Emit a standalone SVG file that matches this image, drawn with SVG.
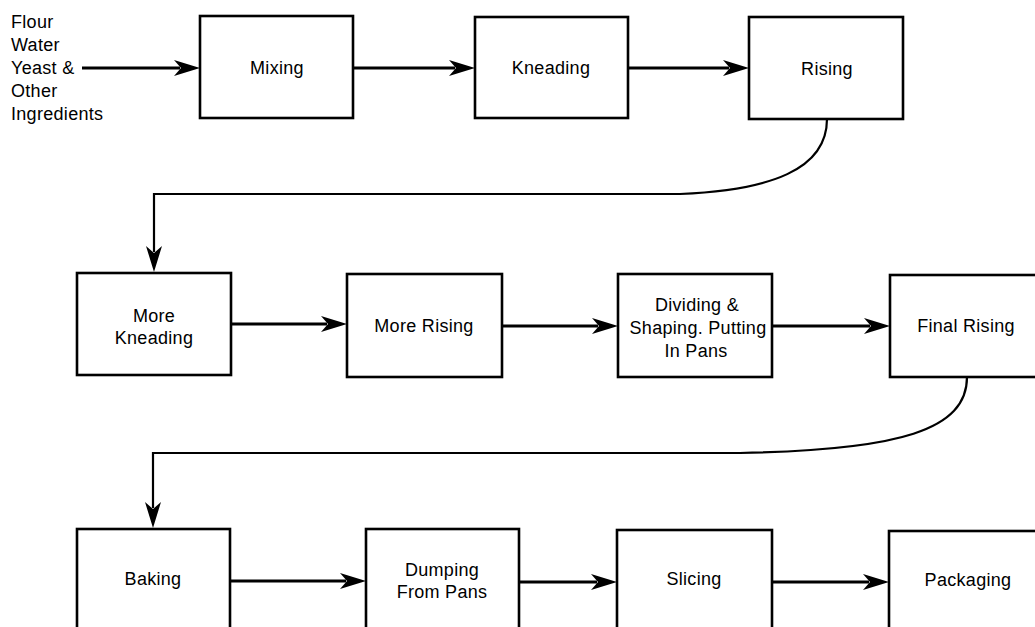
<svg xmlns="http://www.w3.org/2000/svg" width="1035" height="627" viewBox="0 0 1035 627">
  <style>
    .box { fill: #fff; stroke: #000; stroke-width: 2.6; }
    .lbl { font-family: "Liberation Sans", Arial, sans-serif; font-size: 18px; letter-spacing: 0.3px; fill: #000; text-anchor: middle; }
    .src { font-family: "Liberation Sans", Arial, sans-serif; font-size: 18px; letter-spacing: 0.3px; fill: #000; }
    .flow { fill: none; stroke: #000; stroke-width: 3; marker-end: url(#arrow); }
    .loop { fill: none; stroke: #000; stroke-width: 2.2; marker-end: url(#arrow); }
  </style>
  <defs>
    <!-- barbed arrowhead, tip sits 20px past the end of the line -->
    <marker id="arrow" viewBox="0 0 26 16" refX="6" refY="8" markerWidth="26" markerHeight="16" markerUnits="userSpaceOnUse" orient="auto">
      <path d="M0,0 L26,8 L0,16 L7,8 Z" fill="#000"/>
    </marker>
  </defs>
  <rect width="1035" height="627" fill="#fff"/>

  <!-- raw ingredients -->
  <g id="ingredients">
    <text class="src" x="11" y="28">Flour</text>
    <text class="src" x="11" y="51">Water</text>
    <text class="src" x="11" y="74">Yeast &amp;</text>
    <text class="src" x="11" y="97">Other</text>
    <text class="src" x="11" y="120">Ingredients</text>
  </g>

  <!-- connectors -->
  <g id="connectors">
    <path class="flow" d="M82,68 L180,68"/>
    <path class="flow" d="M353,68 L455,68"/>
    <path class="flow" d="M628,68 L729,68"/>
    <path class="loop" d="M827,119 C827,170 770,190 680,194 L154,194 L154,252"/>
    <path class="flow" d="M231,324 L327,324"/>
    <path class="flow" d="M502,326 L598,326"/>
    <path class="flow" d="M772,326 L870,326"/>
    <path class="loop" d="M967,377 C967,430 900,450 740,453 L153,453 L153,508"/>
    <path class="flow" d="M230,581 L346,581"/>
    <path class="flow" d="M519,582 L597,582"/>
    <path class="flow" d="M772,582 L869,582"/>
  </g>

  <!-- row 1 -->
  <g id="mixing">
    <rect class="box" x="200" y="16" width="153" height="102"/>
    <text class="lbl" x="277" y="74">Mixing</text>
  </g>
  <g id="kneading">
    <rect class="box" x="475" y="17" width="153" height="101"/>
    <text class="lbl" x="551" y="74">Kneading</text>
  </g>
  <g id="rising">
    <rect class="box" x="749" y="17" width="154" height="102"/>
    <text class="lbl" x="827" y="75">Rising</text>
  </g>

  <!-- row 2 -->
  <g id="more-kneading">
    <rect class="box" x="77" y="273" width="154" height="102"/>
    <text class="lbl" x="154" y="322">More</text>
    <text class="lbl" x="154" y="344">Kneading</text>
  </g>
  <g id="more-rising">
    <rect class="box" x="347" y="274" width="155" height="103"/>
    <text class="lbl" x="424" y="332">More Rising</text>
  </g>
  <g id="dividing">
    <rect class="box" x="618" y="274" width="154" height="103"/>
    <text class="lbl" x="697" y="311">Dividing &amp;</text>
    <text class="lbl" x="698" y="334">Shaping. Putting</text>
    <text class="lbl" x="696" y="357">In Pans</text>
  </g>
  <g id="final-rising">
    <rect class="box" x="890" y="275" width="156" height="102"/>
    <text class="lbl" x="966" y="332">Final Rising</text>
  </g>

  <!-- row 3 -->
  <g id="baking">
    <rect class="box" x="77" y="529" width="153" height="104"/>
    <text class="lbl" x="153" y="585">Baking</text>
  </g>
  <g id="dumping">
    <rect class="box" x="366" y="529" width="153" height="104"/>
    <text class="lbl" x="442" y="576">Dumping</text>
    <text class="lbl" x="442" y="598">From Pans</text>
  </g>
  <g id="slicing">
    <rect class="box" x="617" y="530" width="155" height="104"/>
    <text class="lbl" x="694" y="585">Slicing</text>
  </g>
  <g id="packaging">
    <rect class="box" x="889" y="531" width="157" height="104"/>
    <text class="lbl" x="968" y="586">Packaging</text>
  </g>
</svg>
